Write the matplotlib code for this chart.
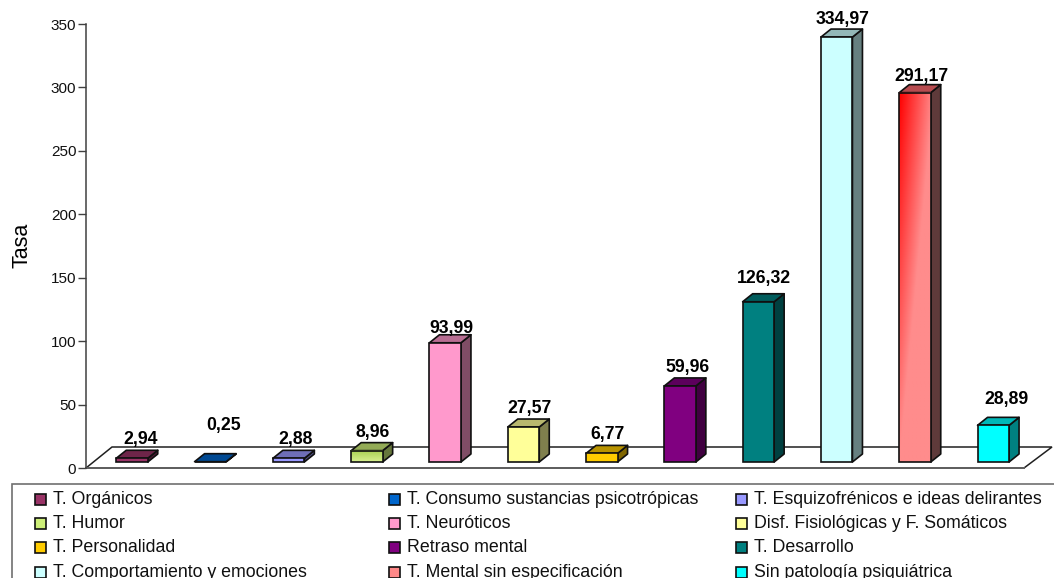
import numpy as np
import matplotlib
matplotlib.use("Agg")
import matplotlib.pyplot as plt
from matplotlib.patches import Polygon, Rectangle

plt.rcParams["font.family"] = ["Liberation Sans", "DejaVu Sans"]

# Data
categories = [
    "T. Orgánicos", "T. Consumo sustancias psicotrópicas", "T. Esquizofrénicos e ideas delirantes",
    "T. Humor", "T. Neuróticos", "Disf. Fisiológicas y F. Somáticos",
    "T. Personalidad", "Retraso mental", "T. Desarrollo",
    "T. Comportamiento y emociones", "T. Mental sin especificación", "Sin patología psiquiátrica",
]
values = [2.94, 0.25, 2.88, 8.96, 93.99, 27.57, 6.77, 59.96, 126.32, 334.97, 291.17, 28.89]
labels = ["2,94", "0,25", "2,88", "8,96", "93,99", "27,57", "6,77", "59,96", "126,32", "334,97", "291,17", "28,89"]
colors = ["#993366", "#0066CC", "#9999FF", "#CCEE77", "#FF99CC", "#FFFF99",
          "#FFCC00", "#800080", "#008080", "#CCFFFF", "#FF8888", "#00FFFF"]
yticks = [0, 50, 100, 150, 200, 250, 300, 350]

# hand placement of the data labels, in pixels from the top of each bar
label_dx = [9, 13, 7, 6, 6, 6, 6, 7, 6, 6, 6, 13]
label_dy = [2, 20, 2, 2, -2, 2, 2, 2, 7, 1, 0, 9]

W, H = 1054, 578
fig = plt.figure(figsize=(W / 100, H / 100), dpi=100)

# plot area in pixels of the picture: y axis at x=86, 0 at y=468, 350 at y=24
ax = fig.add_axes([86 / W, 1 - 468 / H, (W - 86) / W, 444 / H])
px_x = 78.3                 # pixels per category
px_y = 444 / 350            # pixels per unit
x_left = -46 / px_x
x_right = x_left + (W - 86) / px_x

bar_w = 31.5 / px_x
depth_x = 10 / px_x
depth_y = 8 / px_y
base = 6 / px_y             # bars stand a little behind the front edge of the floor
floor_y = 21 / px_y
edge = "#101010"


def shade(color, k):
    return tuple(c * k for c in matplotlib.colors.to_rgb(color))


def gradient_face(x0, x1, y0, y1, start, stop, horizontal_share):
    # start colour top-left, fading to stop colour at the bottom and the right
    u = np.linspace(0, 1, 40)[None, :, None]
    v = np.linspace(0, 1, 120)[:, None, None]
    t = np.clip(v + horizontal_share * u, 0, 1)
    a = np.array(matplotlib.colors.to_rgb(start))
    b = np.array(matplotlib.colors.to_rgb(stop))
    img = a * (1 - t) + b * t
    ax.imshow(img, extent=(x0, x1, y0, y1), origin="upper", aspect="auto", zorder=4.5)


# floor
floor = Polygon([(x_left, 0), (x_left + 26 / px_x, floor_y), (x_left + 966 / px_x, floor_y),
                 (x_left + 938 / px_x, 0)], closed=True, facecolor="white", edgecolor="#202020",
                linewidth=1.1, zorder=1, clip_on=False)
ax.add_patch(floor)
ax.plot([x_left, x_left + 938 / px_x], [0, 0], color="#606060", linewidth=1.4, zorder=1.5, clip_on=False)

for i, (val, lab, col) in enumerate(zip(values, labels, colors)):
    x0 = i - bar_w / 2
    x1 = i + bar_w / 2
    y0 = base
    y1 = base + val
    side_col = shade(col, 0.5)
    top_col = shade(col, 0.72)
    if i == 10:
        top_col = "#B84C50"
        side_col = "#5E3A3A"
    side = Polygon([(x1, y0), (x1 + depth_x, y0 + depth_y), (x1 + depth_x, y1 + depth_y), (x1, y1)],
                   facecolor=side_col, edgecolor=edge, linewidth=1.2, zorder=3, joinstyle="round")
    top = Polygon([(x0, y1), (x0 + depth_x, y1 + depth_y), (x1 + depth_x, y1 + depth_y), (x1, y1)],
                  facecolor=top_col, edgecolor=edge, linewidth=1.2, zorder=3, joinstyle="round")
    ax.add_patch(side)
    ax.add_patch(top)
    ax.add_patch(Rectangle((x0, y0), bar_w, val, facecolor=col, edgecolor="none", zorder=4))
    if i == 3:
        gradient_face(x0, x1, y0, y1, "#A8D050", "#D8F090", 0.0)
    if i == 10:
        gradient_face(x0, x1, y0, y1, "#FF0000", "#FF8C8C", 0.9)
    ax.add_patch(Rectangle((x0, y0), bar_w, val, facecolor="none", edgecolor=edge, linewidth=1.2, zorder=5))
    ax.annotate(lab, (i, y1 + depth_y), xytext=(label_dx[i], label_dy[i]), textcoords="offset pixels",
                ha="center", va="bottom", fontsize=12.7, fontweight="bold", color="black", zorder=6,
                clip_on=False, annotation_clip=False)

ax.set_xlim(x_left, x_right)
ax.set_ylim(0, 350)
ax.set_xticks([])
ax.set_yticks(yticks)
ax.set_yticklabels([str(t) for t in yticks], fontsize=11, color="#101010")
ax.tick_params(axis="y", length=6, width=1, color="#404040", pad=1)
ax.patch.set_alpha(0)
for s in ["top", "right", "bottom"]:
    ax.spines[s].set_visible(False)
ax.spines["left"].set_color("#404040")
ax.spines["left"].set_linewidth(1.1)
fig.text(22 / W, 1 - 245 / H, "Tasa", rotation=90, ha="center", va="center", fontsize=15.5, color="black")

# legend box, cut by the lower and right border of the picture
lg = fig.add_axes([0, 0, 1, 1])
lg.set_xlim(0, W)
lg.set_ylim(H, 0)
lg.axis("off")
lg.patch.set_alpha(0)
lg.add_patch(Rectangle((12, 484), W + 20, 120, facecolor="white", edgecolor="#707070", linewidth=1.2))
col_x = [35, 389, 736]
row_y = [498.5, 522.5, 547, 572]
for i, (name, col) in enumerate(zip(categories, colors)):
    cx = col_x[i % 3]
    cy = row_y[i // 3]
    lg.add_patch(Rectangle((cx, cy - 5), 11, 11, facecolor=col, edgecolor=edge, linewidth=1.2))
    lg.text(cx + 18, cy + 0.5, name, fontsize=12.8, va="center", ha="left", color="#101010")

fig.savefig("out.png", dpi=100)
